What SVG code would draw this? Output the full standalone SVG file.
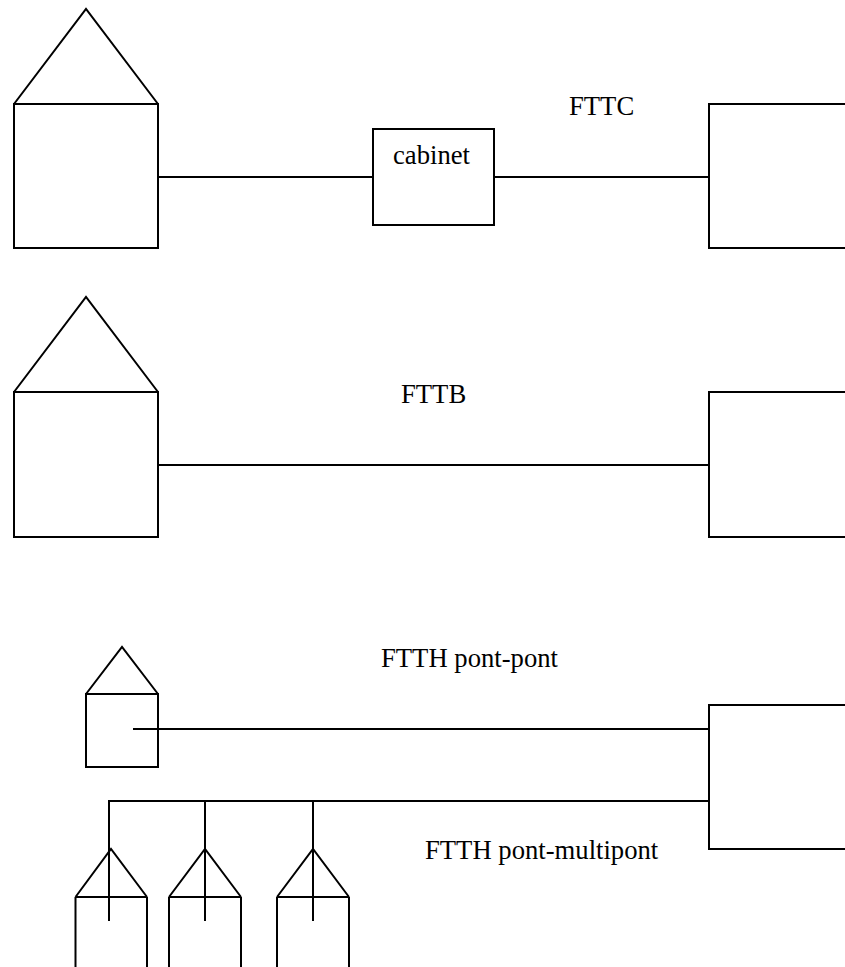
<svg xmlns="http://www.w3.org/2000/svg" width="845" height="967" viewBox="0 0 845 967">
<style>
.s{fill:none;stroke:#000;stroke-width:2}
text{font-family:"Liberation Serif","Times New Roman",serif;font-size:26.67px;fill:#000}
</style>
<rect width="845" height="967" fill="#fff"/>
<g id="connectors">
<path class="s" d="M158 177H373M494 177H709"/>
<path class="s" d="M158 465H709"/>
<path class="s" d="M133 729H709"/>
<path class="s" d="M709 801H109V921M205 801V921M313 801V921"/>
</g>
<g id="house-fttc"><path class="s" d="M14 104L86 9L158 104M14 104H158V248H14Z"/></g>
<g id="cabinet"><rect class="s" x="373" y="129" width="121" height="96"/><text x="393" y="164">cabinet</text></g>
<g id="co-fttc"><path class="s" d="M845 104H709V248H845"/></g>
<text id="label-fttc" x="569" y="115">FTTC</text>
<g id="house-fttb"><path class="s" d="M14 392L86 297L158 392M14 392H158V537H14Z"/></g>
<g id="co-fttb"><path class="s" d="M845 392H709V537H845"/></g>
<text id="label-fttb" x="401" y="403">FTTB</text>
<g id="house-ptp"><path class="s" d="M86 694L122 647L158 694M86 694H158V767H86Z"/></g>
<g id="co-ftth"><path class="s" d="M845 705H709V849H845"/></g>
<text id="label-ptp" x="381" y="667">FTTH pont-pont</text>
<text id="label-ptmp" x="425" y="859">FTTH pont-multipont</text>
<g id="house-m1"><path class="s" d="M75.500 897L111 849L147 897M75.500 897H147M75.500 897V967M147 897V967"/></g>
<g id="house-m2"><path class="s" d="M169 897L205 849L241 897M169 897H241M169 897V967M241 897V967"/></g>
<g id="house-m3"><path class="s" d="M277 897L313 849L349 897M277 897H349M277 897V967M349 897V967"/></g>
</svg>
